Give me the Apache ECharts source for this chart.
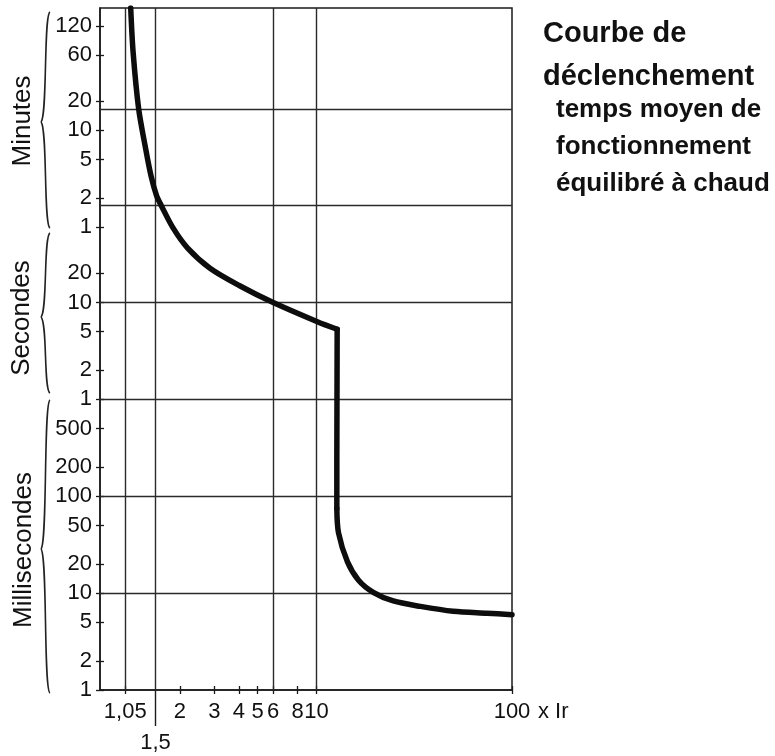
<!DOCTYPE html>
<html><head><meta charset="utf-8">
<script src="https://cdn.jsdelivr.net/npm/echarts@6/dist/echarts.min.js"></script>
<style>html,body{margin:0;padding:0;background:#fff}#c{width:775px;height:756px}</style>
</head><body><div id="c"></div>
<script>
// ---- data ----
const xIr    = [1.12, 1.152, 1.23, 1.332, 1.423, 1.517, 1.607, 1.844, 2.19, 2.85, 4.02, 6.0, 10.1, 12.75, 12.7, 12.7, 12.95, 14.4, 16.4, 19.5, 24.7, 34, 50, 74.5, 100];
const tempsS = [11000, 3870, 1000, 400, 203, 128, 100, 59, 36.5, 22.6, 15.0, 10, 6.34, 5.3, 0.24, 0.075, 0.042, 0.021, 0.0136, 0.0102, 0.0083, 0.0073, 0.0065, 0.0062, 0.006];
const gridLinesX = [1.05, 1.5, 6, 10];
const gridLinesY = [0.01, 0.1, 1, 10, 100, 1000];
const xTickValues = [1.05, 2, 3, 4, 5, 6, 8, 10, 100];
const xTickValuesLow = [1.5];
const yTickValues = [0.001, 0.002, 0.005, 0.01, 0.02, 0.05, 0.1, 0.2, 0.5, 1, 2, 5, 10, 20, 60, 120, 300, 600, 1200, 3600, 7200];
const unitLabels = ['Minutes', 'Secondes', 'Millisecondes'];
const titleLines = ['Courbe de', 'déclenchement'];
const subtitleLines = ['temps moyen de', 'fonctionnement', 'équilibré à chaud'];
const xUnit = 'x Ir';

// ---- chart ----
const FONT = '"Liberation Sans", Arial, sans-serif';
const INK = '#111';
const X_MIN = 0.78, X_MAX = 100, Y_MIN = 0.001, Y_MAX = 11000;
// curve pieces: thermal part (smooth), magnetic step (straight), instantaneous part (smooth)
const CORNER = 13, STEP_END = 15;

function fmtX(v) { return String(Math.round(v * 100) / 100).replace('.', ','); }
function fmtY(v) {
  if (v < 0.9995) return String(Math.round(v * 1000));
  if (v < 59.5) return String(Math.round(v));
  return String(Math.round(v / 60));
}

function baseX(extra) {
  return Object.assign({
    type: 'log', min: X_MIN, max: X_MAX, position: 'bottom', gridIndex: 0,
    splitLine: { show: false }, minorTick: { show: false }, minorSplitLine: { show: false },
    axisLine: { show: false }, axisTick: { show: false }, axisLabel: { show: false }
  }, extra);
}
function baseY(extra) {
  return Object.assign({
    type: 'log', min: Y_MIN, max: Y_MAX, position: 'left', gridIndex: 0,
    splitLine: { show: false }, minorTick: { show: false }, minorSplitLine: { show: false },
    axisLine: { show: false }, axisTick: { show: false }, axisLabel: { show: false }
  }, extra);
}

function brace(y1, ym, y2) {
  const xR = 50, xB = 45.5, xC = 41;
  const st = { stroke: '#222', lineWidth: 1.6, fill: null };
  return [
    { type: 'bezierCurve', shape: { x1: xR, y1: y1, cpx1: xB - 2, cpy1: y1 + 3, cpx2: xB + 2, cpy2: ym - 6, x2: xC, y2: ym }, style: st, silent: true },
    { type: 'bezierCurve', shape: { x1: xC, y1: ym, cpx1: xB + 2, cpy1: ym + 6, cpx2: xB - 2, cpy2: y2 - 3, x2: xR, y2: y2 }, style: st, silent: true }
  ];
}
function vText(txt, x, y) {
  return { type: 'text', x: x, y: y, rotation: Math.PI / 2, silent: true,
    style: { text: txt, font: '26px ' + FONT, fill: INK, align: 'center', verticalAlign: 'middle' } };
}

const pts = xIr.map((x, i) => [x, tempsS[i]]);
function curve(data, smooth, withGrid) {
  const s = {
    type: 'line', xAxisIndex: 0, yAxisIndex: 0, data: data,
    showSymbol: false, symbol: 'none', smooth: smooth, clip: true,
    lineStyle: { color: '#0d0d0d', width: 5.5, cap: 'round', join: 'round' },
    emphasis: { disabled: true }, silent: true, z: 3
  };
  if (withGrid) {
    s.markLine = {
      silent: true, symbol: ['none', 'none'], label: { show: false },
      lineStyle: { color: '#2a2a2a', width: 1.4, type: 'solid' },
      emphasis: { disabled: true }, z: 1,
      data: gridLinesX.map(v => ({ xAxis: v })).concat(gridLinesY.map(v => ({ yAxis: v })))
    };
  }
  return s;
}

const chart = echarts.init(document.getElementById('c'), null, { renderer: 'canvas' });
chart.setOption({
  animation: false,
  backgroundColor: '#fff',
  title: [
    { text: titleLines.join('\n'), left: 538, top: 7,
      textStyle: { fontFamily: FONT, fontSize: 29, fontWeight: 'bold', color: INK, lineHeight: 43 } },
    { text: subtitleLines.join('\n'), left: 551, top: 86,
      textStyle: { fontFamily: FONT, fontSize: 26, fontWeight: 'bold', color: INK, lineHeight: 37 } }
  ],
  grid: { left: 100, right: 263, top: 8, bottom: 66, show: true, borderColor: '#1a1a1a', borderWidth: 1.5, backgroundColor: 'transparent' },
  xAxis: [
    baseX({
      axisLine: { show: true, lineStyle: { color: '#1a1a1a', width: 1.5 } },
      axisTick: { show: true, length: 4, customValues: xTickValues, lineStyle: { color: '#1a1a1a', width: 1.3 } },
      axisLabel: { show: true, customValues: xTickValues, formatter: fmtX, margin: 11,
        fontFamily: FONT, fontSize: 22, color: INK },
      name: xUnit, nameLocation: 'end', nameGap: 26,
      nameTextStyle: { fontFamily: FONT, fontSize: 22, color: INK, verticalAlign: 'top', padding: [11, 0, 0, 0] }
    }),
    baseX({
      axisTick: { show: true, inside: true, length: 4, customValues: xTickValues, lineStyle: { color: '#1a1a1a', width: 1.3 } }
    }),
    baseX({
      axisTick: { show: true, length: 36, customValues: xTickValuesLow, lineStyle: { color: '#1a1a1a', width: 1.4 } },
      axisLabel: { show: true, customValues: xTickValuesLow, formatter: fmtX, margin: 42,
        fontFamily: FONT, fontSize: 22, color: INK }
    })
  ],
  yAxis: [
    baseY({
      axisLine: { show: true, lineStyle: { color: '#1a1a1a', width: 1.5 } },
      axisTick: { show: true, length: 4, customValues: yTickValues, lineStyle: { color: '#1a1a1a', width: 1.3 } },
      axisLabel: { show: true, customValues: yTickValues, formatter: fmtY, margin: 8,
        fontFamily: FONT, fontSize: 22, color: INK }
    }),
    baseY({
      axisTick: { show: true, inside: true, length: 4, customValues: yTickValues, lineStyle: { color: '#1a1a1a', width: 1.3 } }
    })
  ],
  graphic: [].concat(
    brace(12, 122, 228), brace(233, 317, 393), brace(400, 549, 693),
    [vText(unitLabels[0], 23, 121), vText(unitLabels[1], 22, 318), vText(unitLabels[2], 24, 550)]
  ),
  series: [
    curve(pts.slice(0, CORNER + 1), 0.3, true),
    curve(pts.slice(CORNER, STEP_END + 1), false, false),
    curve(pts.slice(STEP_END), 0.3, false)
  ]
});
</script></body></html>
